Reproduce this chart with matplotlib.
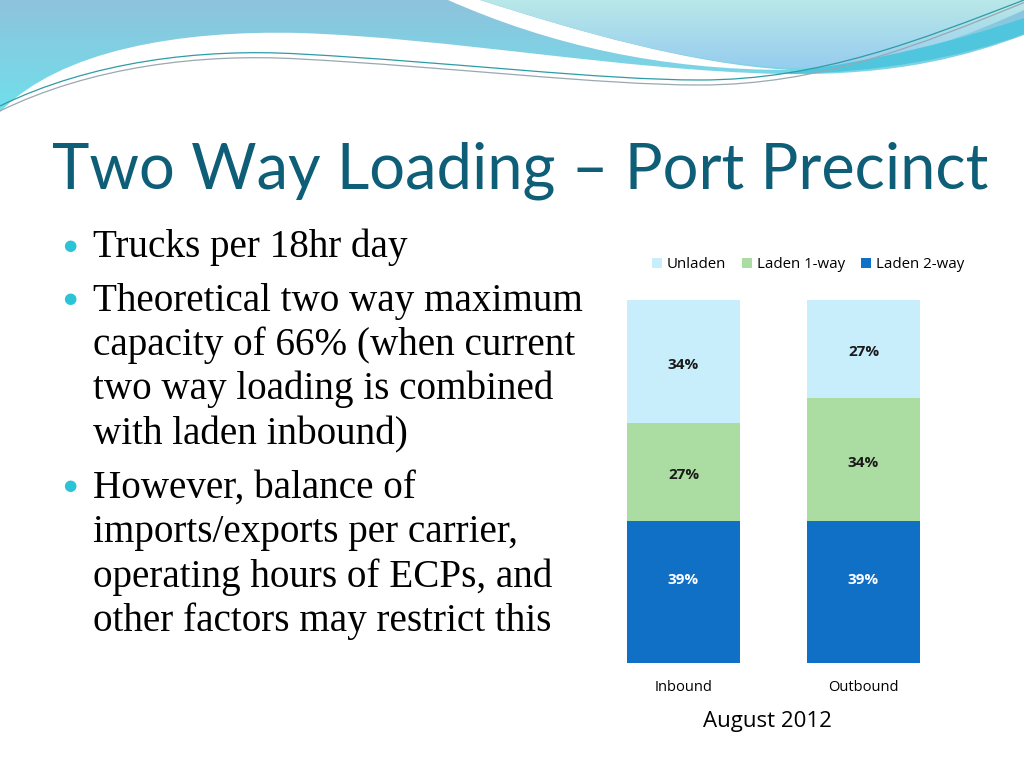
import numpy as np
import matplotlib
matplotlib.use("Agg")
import matplotlib.pyplot as plt
from matplotlib.path import Path
from matplotlib.patches import PathPatch
from matplotlib.colors import LinearSegmentedColormap

# data
directions = ["Inbound", "Outbound"]
series = ["Laden 2-way", "Laden 1-way", "Unladen"]
laden_2way = [0.39, 0.39]
laden_1way = [0.27, 0.34]
unladen = [0.34, 0.27]
colors = {"Laden 2-way": "#1070C6", "Laden 1-way": "#ABDDA2", "Unladen": "#C8EDFB"}
label_colors = {"Laden 2-way": "white", "Laden 1-way": "#1a1a1a", "Unladen": "#1a1a1a"}

title = "Two Way Loading \u2013 Port Precinct"
bullets = [
    ["Trucks per 18hr day"],
    ["Theoretical two way maximum", "capacity of 66% (when current",
     "two way loading is combined", "with laden inbound)"],
    ["However, balance of", "imports/exports per carrier,",
     "operating hours of ECPs, and", "other factors may restrict this"],
]
caption = "August 2012"

W, H = 1024, 768
fig = plt.figure(figsize=(W / 100, H / 100), dpi=100)
fig.patch.set_facecolor("white")

# background decoration (pixel coordinates, y down)
bg = fig.add_axes([0, 0, 1, 1])
bg.set_xlim(0, W)
bg.set_ylim(H, 0)
bg.axis("off")


def grad_fill(ax, verts, codes, c_top, c_bot, y0, y1, z=1):
    patch = PathPatch(Path(verts, codes), facecolor="none", edgecolor="none")
    ax.add_patch(patch)
    cmap = LinearSegmentedColormap.from_list("g", [c_top, c_bot])
    img = ax.imshow(np.linspace(0, 1, 100).reshape(-1, 1), cmap=cmap, aspect="auto",
                    extent=[0, W, y1, y0], zorder=z)
    img.set_clip_path(patch)


C = Path.CURVE4
cyan_verts = [(0, 0), (0, 112), (60, 50), (180, 30), (300, 33),
              (450, 38), (620, 70), (780, 74), (900, 76), (970, 55), (1024, 35),
              (1024, 0), (0, 0)]
cyan_codes = [Path.MOVETO, Path.LINETO, C, C, C, C, C, C, C, C, C, Path.LINETO, Path.CLOSEPOLY]
grad_fill(bg, cyan_verts, cyan_codes, "#8EC3DC", "#6FE0EC", 0, 115)

# white tapered stripe
white_verts = [(448, 0), (550, 45), (660, 70), (790, 70),
               (690, 64), (580, 32), (480, 0), (448, 0)]
white_codes = [Path.MOVETO, C, C, C, C, C, C, Path.CLOSEPOLY]
bg.add_patch(PathPatch(Path(white_verts, white_codes), facecolor="white",
                       edgecolor="none", zorder=2))

right_verts = [(480, 0), (580, 32), (690, 64), (790, 68), (890, 70), (980, 30), (1024, 10),
               (1024, 0), (480, 0)]
right_codes = [Path.MOVETO, C, C, C, C, C, C, Path.LINETO, Path.CLOSEPOLY]
grad_fill(bg, right_verts, right_codes, "#B8E8E8", "#96CCEF", 0, 70, z=2)

strip_verts = [(790, 72), (880, 60), (960, 40), (1024, 18), (1024, 34), (960, 58), (880, 72), (790, 74)]
strip_codes = [Path.MOVETO, C, C, C, Path.LINETO, C, C, C]
bg.add_patch(PathPatch(Path(strip_verts, strip_codes), facecolor="#4FC6DE", edgecolor="none", zorder=3))

for dy, col in [(0, "#2E9CA6"), (5, "#9AA8B0")]:
    line_verts = [(0, 106 + dy), (90, 62 + dy), (200, 48 + dy), (300, 54 + dy),
                  (450, 62 + dy), (600, 80 + dy), (700, 80 + dy),
                  (820, 80 + dy), (920, 40 + dy), (1024, 0 + dy * 0.5)]
    line_codes = [Path.MOVETO, C, C, C, C, C, C, C, C, C]
    bg.add_patch(PathPatch(Path(line_verts, line_codes), facecolor="none",
                           edgecolor=col, lw=0.9, zorder=4))

# title
fig.text(52 / W, 1 - 188 / H, title, fontsize=45.5, family="Lato", color="#0E5E78", va="baseline")

# bullet text
y = 257
for para in bullets:
    fig.text(70 / W, 1 - (y - 12) / H, "\u25CF", fontsize=11, color="#2BC4D6",
             ha="center", va="center", family="DejaVu Sans")
    for line in para:
        fig.text(93 / W, 1 - y / H, line, fontsize=28.2, family="Liberation Serif",
                 color="black", va="baseline")
        y += 44.5
    y += 9

# chart
ax = fig.add_axes([593.5 / W, 1 - 663 / H, 360 / W, 363 / H])
x = np.arange(len(directions))
bottom = np.zeros(len(directions))
handles = {}
for name, vals in zip(series, [laden_2way, laden_1way, unladen]):
    bars = ax.bar(x, vals, width=0.625, bottom=bottom, color=colors[name], label=name)
    handles[name] = bars
    shift = 0.035 if name == "Laden 2-way" else -0.008
    for xi, b, v in zip(x, bottom, vals):
        ax.text(xi, b + v / 2 + shift, f"{v:.0%}", ha="center", va="center", fontsize=11,
                fontweight="bold", family="Open Sans", color=label_colors[name])
    bottom += np.array(vals)

ax.set_xlim(-0.5, 1.5)
ax.set_ylim(0, 1)
ax.set_xticks(x)
ax.set_xticklabels(directions, family="Open Sans", fontsize=10.5)
ax.tick_params(axis="x", length=0, pad=12)
ax.set_yticks([])
for s in ax.spines.values():
    s.set_visible(False)
ax.patch.set_alpha(0)

order = ["Unladen", "Laden 1-way", "Laden 2-way"]
fig.legend([handles[n] for n in order], order, loc="center", ncol=3,
           bbox_to_anchor=(808 / W, 1 - 265 / H), frameon=False,
           prop={"family": "Open Sans", "size": 10.8}, handlelength=0.65, handleheight=0.65,
           handletextpad=0.3, columnspacing=1.1)

fig.text(767 / W, 1 - 722 / H, caption, ha="center", va="center", fontsize=16,
         family="Open Sans", color="black")

fig.savefig("out.png", dpi=100)
